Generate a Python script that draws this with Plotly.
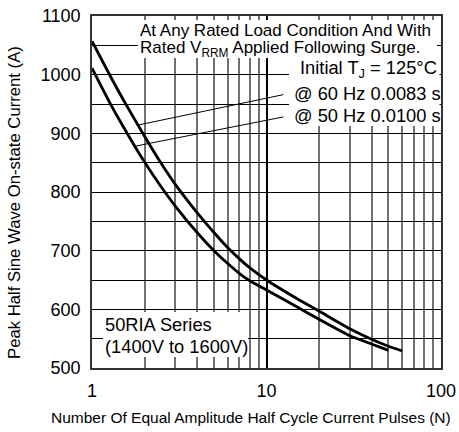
import plotly.graph_objects as go

# ---- data ----
pulses_60 = [1, 1.25, 1.5, 2, 2.5, 3, 4, 5, 6, 7, 8, 10, 15, 20, 30, 40, 50, 60]
current_60 = [1057, 1002, 959, 895, 848, 813, 765, 731, 705, 686, 671, 650, 618, 597, 567, 549, 537, 529]
pulses_50 = [1, 1.25, 1.5, 2, 2.5, 3, 4, 5, 6, 7, 8, 10, 15, 20, 30, 40, 50]
current_50 = [1011, 955, 913, 851, 808, 776, 731, 700, 678, 661, 649, 633, 604, 583, 555, 541, 530]

x_major = [1, 10, 100]
x_major_text = ["1", "10", "100"]
x_minor = [2, 3, 4, 5, 6, 7, 8, 9, 20, 30, 40, 50, 60, 70, 80, 90]
y_ticks = [500, 600, 700, 800, 900, 1000, 1100]

# ---- layout geometry (pixels) ----
W, H = 459, 432
L, R, T, B = 92, 18, 16, 64
PW, PH = W - L - R, H - T - B

def px(x):
    return (x - L) / PW

def py(y):
    return (H - B - y) / PH

FONT = "Liberation Sans, Arial, sans-serif"

fig = go.Figure()
fig.add_trace(go.Scatter(x=pulses_60, y=current_60, mode="lines",
                         line=dict(color="black", width=2.8, shape="spline", smoothing=0.6),
                         showlegend=False, hoverinfo="skip"))
fig.add_trace(go.Scatter(x=pulses_50, y=current_50, mode="lines",
                         line=dict(color="black", width=2.8, shape="spline", smoothing=0.6),
                         showlegend=False, hoverinfo="skip"))

shapes = []
# white boxes behind text (hide gridlines)
for (x0, x1, y0, y1) in [(138, 437, 20, 58), (289, 439.5, 56, 126), (103, 248, 312, 357)]:
    shapes.append(dict(type="rect", xref="paper", yref="paper", x0=px(x0), x1=px(x1),
                       y0=py(y1), y1=py(y0), fillcolor="white", line=dict(width=0),
                       layer="above"))
# leader lines
shapes.append(dict(type="line", xref="x", yref="y", x0=1.83, y0=914, x1=12.5, y1=966,
                   line=dict(color="black", width=1)))
shapes.append(dict(type="line", xref="x", yref="y", x0=1.76, y0=878, x1=12.5, y1=928,
                   line=dict(color="black", width=1)))

f17 = dict(family=FONT, size=17, color="black")
f18 = dict(family=FONT, size=18.3, color="black")
annotations = [
    dict(text="At Any Rated Load Condition And With", x=px(139), y=py(31), xanchor="left", yanchor="middle", font=f17),
    dict(text="Rated V<sub>RRM</sub> Applied Following Surge.", x=px(139), y=py(49), xanchor="left", yanchor="middle", font=f17),
    dict(text="Initial T<sub>J</sub> = 125°C", x=px(438), y=py(69), xanchor="right", yanchor="middle", font=f18),
    dict(text="@ 60 Hz 0.0083 s", x=px(442), y=py(94), xanchor="right", yanchor="middle", font=f18),
    dict(text="@ 50 Hz 0.0100 s", x=px(442), y=py(115), xanchor="right", yanchor="middle", font=f18),
    dict(text="50RIA Series", x=px(104), y=py(324), xanchor="left", yanchor="middle", font=f18),
    dict(text="(1400V to 1600V)", x=px(104), y=py(346), xanchor="left", yanchor="middle", font=f18),
]
for a in annotations:
    a.update(xref="paper", yref="paper", showarrow=False, borderpad=0)

# axis titles
annotations.append(dict(text="Peak Half Sine Wave On-state Current (A)", xref="paper", yref="paper",
                        x=px(14), y=py(203), xanchor="center", yanchor="middle", textangle=-90,
                        showarrow=False, font=dict(family=FONT, size=16.7, color="black")))
annotations.append(dict(text="Number Of Equal Amplitude Half Cycle Current Pulses (N)", xref="paper", yref="paper",
                        x=px(251), y=py(417), xanchor="center", yanchor="middle",
                        showarrow=False, font=dict(family=FONT, size=15.5, color="black")))

fig.update_layout(
    width=W, height=H,
    margin=dict(l=L, r=R, t=T, b=B, autoexpand=False),
    paper_bgcolor="white", plot_bgcolor="white",
    shapes=shapes, annotations=annotations,
    font=dict(family=FONT, color="black"),
)
fig.update_xaxes(type="log", range=[0, 2], tickvals=x_major, ticktext=x_major_text,
                 showgrid=True, gridcolor="black", gridwidth=1.5,
                 minor=dict(tickvals=x_minor, showgrid=True, gridcolor="#707070", gridwidth=1.5, ticks=""),
                 showline=True, mirror=True, linecolor="#333", linewidth=1.5,
                 ticks="", tickfont=dict(family=FONT, size=18, color="black"),
                 ticklabelstandoff=6, zeroline=False)
fig.update_yaxes(range=[500, 1100], tickvals=y_ticks,
                 showgrid=True, gridcolor="black", gridwidth=1,
                 minor=dict(dtick=50, showgrid=True, gridcolor="black", gridwidth=1, ticks=""),
                 showline=True, mirror=True, linecolor="#333", linewidth=1.5,
                 ticks="", tickfont=dict(family=FONT, size=18, color="black"),
                 ticklabelstandoff=6, zeroline=False)

fig.write_html("out.html", config={"displayModeBar": False},
               post_script="document.body.style.margin='0px';")
